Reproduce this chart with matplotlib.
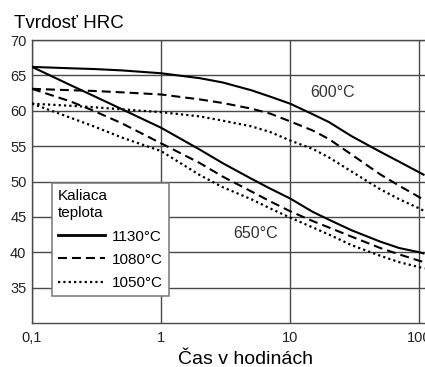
import matplotlib
matplotlib.use("Agg")
import matplotlib.pyplot as plt
from matplotlib.lines import Line2D

# --- hodnoty odcitane z grafu ---
hours = [0.1, 0.2, 0.3, 0.5, 1, 2, 3, 5, 7, 10, 15, 20, 30, 50, 70, 100, 110]

# popustenie 600 °C
hrc_600_1130 = [66.2, 66.0, 65.9, 65.7, 65.3, 64.6, 64.0, 62.9, 62.0, 61.0, 59.5, 58.4, 56.4, 54.2, 52.8, 51.3, 50.9]
hrc_600_1080 = [63.1, 62.9, 62.8, 62.6, 62.3, 61.6, 61.1, 60.3, 59.6, 58.5, 57.2, 56.0, 53.8, 51.0, 49.4, 47.8, 47.3]
hrc_600_1050 = [61.0, 60.7, 60.5, 60.2, 59.8, 59.2, 58.6, 57.8, 57.0, 55.8, 54.6, 53.4, 51.4, 48.9, 47.5, 46.2, 45.8]

# popustenie 650 °C
hrc_650_1130 = [66.2, 63.6, 62.1, 60.2, 57.6, 54.5, 52.6, 50.4, 49.0, 47.6, 45.7, 44.6, 43.1, 41.5, 40.6, 40.0, 39.8]
hrc_650_1080 = [63.1, 61.3, 60.0, 58.2, 55.4, 52.6, 50.7, 48.6, 47.2, 45.8, 44.4, 43.5, 42.2, 40.6, 39.7, 38.8, 38.6]
hrc_650_1050 = [61.0, 59.0, 57.8, 56.2, 54.3, 50.9, 49.2, 47.5, 46.2, 44.9, 43.5, 42.5, 41.0, 39.5, 38.6, 37.9, 37.7]

x_ticks = [0.1, 1, 10, 100]
x_labels = ["0,1", "1", "10", "100"]
y_ticks = [35, 40, 45, 50, 55, 60, 65, 70]
legend_labels = ["1130°C", "1080°C", "1050°C"]

SANS = ["Liberation Sans", "DejaVu Sans"]
GRID = "#4a4a4a"

styles = {
    "solid": dict(color="black", lw=1.5, linestyle="-"),
    "dash": dict(color="black", lw=1.5, linestyle=(0, (4.3, 2.4))),
    "dot": dict(color="black", lw=1.6, linestyle=(0, (1, 1.4))),
}

fig = plt.figure(figsize=(4.25, 3.67), dpi=100)
W, H = 425, 367
ax = fig.add_axes([32 / W, 1 - 323 / H, (W - 32) / W, (323 - 40) / H])

ax.set_xscale("log")
ax.set_xlim(0.1, 111)
ax.set_ylim(30, 70)

for vals, st in [(hrc_600_1130, "solid"), (hrc_600_1080, "dash"), (hrc_600_1050, "dot"),
                 (hrc_650_1130, "solid"), (hrc_650_1080, "dash"), (hrc_650_1050, "dot")]:
    ax.plot(hours, vals, solid_capstyle="butt", dash_capstyle="butt", zorder=3, **styles[st])

# mriezka
ax.set_xticks(x_ticks)
ax.set_xticklabels(x_labels)
ax.xaxis.set_minor_locator(matplotlib.ticker.NullLocator())
ax.set_yticks(y_ticks)
ax.grid(True, color=GRID, lw=1.0, zorder=1)
ax.tick_params(length=0, labelsize=10.5, colors="#222222")
ax.tick_params(axis="x", pad=6)
ax.tick_params(axis="y", pad=4)
for lab in ax.get_xticklabels() + ax.get_yticklabels():
    lab.set_family(SANS)
for s in ["left", "bottom", "top"]:
    ax.spines[s].set_color(GRID)
    ax.spines[s].set_linewidth(1.0)
ax.spines["right"].set_visible(False)

ax.text(21.5, 62.6, "600°C", ha="center", va="center", fontsize=11.5, color="#333333", family=SANS)
ax.text(5.4, 42.7, "650°C", ha="center", va="center", fontsize=11.5, color="#333333", family=SANS)

handles = [Line2D([], [], **styles[k]) for k in ["solid", "dash", "dot"]]
handles[0].set_linewidth(2.0)
leg = ax.legend(handles, legend_labels, title="Kaliaca\nteplota", loc="upper left",
                bbox_to_anchor=(52 / W, 1 - 183 / H), bbox_transform=fig.transFigure,
                borderaxespad=0, fancybox=False, framealpha=1, edgecolor="#777777",
                prop={"family": SANS, "size": 11}, title_fontproperties={"family": SANS, "size": 11},
                alignment="left", handlelength=3.05, handletextpad=0.5, labelspacing=0.6,
                borderpad=0.4)
leg.get_title().set_linespacing(1.3)
leg.get_frame().set_linewidth(1.1)
leg.set_zorder(5)

fig.text(14 / W, 1 - 28 / H, "Tvrdosť HRC", ha="left", va="baseline", fontsize=13.5, family=SANS)
fig.text(246 / W, 1 - 364 / H, "Čas v hodinách", ha="center", va="baseline", fontsize=14, family=SANS)

fig.savefig("out.png", dpi=100)
